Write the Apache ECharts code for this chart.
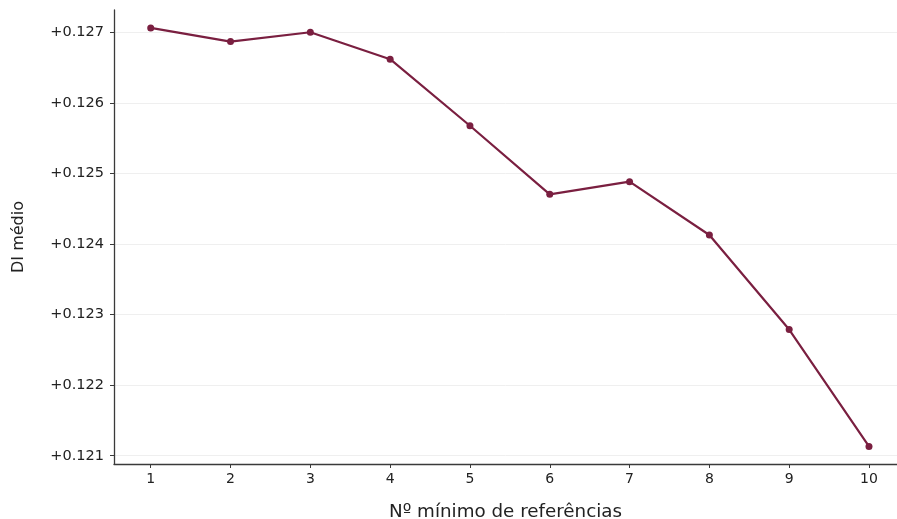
<!DOCTYPE html>
<html>
<head>
<meta charset="utf-8">
<script src="https://cdn.jsdelivr.net/npm/echarts@6/dist/echarts.min.js"></script>
<style>html,body{margin:0;padding:0;background:#fff;}#c{width:897px;height:519px;}</style>
</head>
<body>
<div id="c"></div>
<script>
const categories = [1, 2, 3, 4, 5, 6, 7, 8, 9, 10];
const diMedio = [0.127061, 0.126867, 0.127000, 0.126618, 0.125675, 0.124703, 0.124883, 0.124127, 0.122788, 0.121132];
const yTicks = [0.121, 0.122, 0.123, 0.124, 0.125, 0.126, 0.127];
const xTicks = [1, 2, 3, 4, 5, 6, 7, 8, 9, 10];

const chart = echarts.init(document.getElementById('c'), null, {renderer: 'canvas'});
const font = 'DejaVu Sans';
chart.setOption({
  animation: false,
  grid: {left: 114, top: 10, bottom: 55, right: 0, containLabel: false, outerBoundsMode: 'none'},
  xAxis: {
    type: 'value',
    min: 0.54, max: 10.351,
    name: 'Nº mínimo de referências',
    nameLocation: 'middle',
    nameGap: 39,
    nameTextStyle: {fontFamily: font, fontSize: 18.3, color: '#222'},
    axisLine: {show: true, lineStyle: {color: '#3a3a3a', width: 1.3}},
    axisTick: {show: true, length: 4, lineStyle: {color: '#3a3a3a'}, customValues: xTicks},
    axisLabel: {fontFamily: font, fontSize: 14, color: '#222', margin: 8, customValues: xTicks, formatter: v => String(v)},
    splitLine: {show: false}
  },
  yAxis: {
    type: 'value',
    min: 0.120883, max: 0.127315,
    name: 'DI médio',
    nameLocation: 'middle',
    nameGap: 87,
    nameRotate: 90,
    nameTextStyle: {fontFamily: font, fontSize: 16, color: '#222'},
    axisLine: {show: true, lineStyle: {color: '#3a3a3a', width: 1.3}},
    axisTick: {show: true, length: 4, lineStyle: {color: '#3a3a3a'}, customValues: yTicks},
    axisLabel: {fontFamily: font, fontSize: 14.5, color: '#222', margin: 10, customValues: yTicks,
      formatter: v => '+' + v.toFixed(3)},
    splitLine: {show: true, lineStyle: {color: '#efefef', width: 1}}
  },
  series: [{
    type: 'line',
    data: categories.map((c, i) => [c, diMedio[i]]),
    symbol: 'circle',
    symbolSize: 7,
    lineStyle: {color: '#7a1f40', width: 2.2},
    itemStyle: {color: '#7a1f40'}
  }]
});
</script>
</body>
</html>
